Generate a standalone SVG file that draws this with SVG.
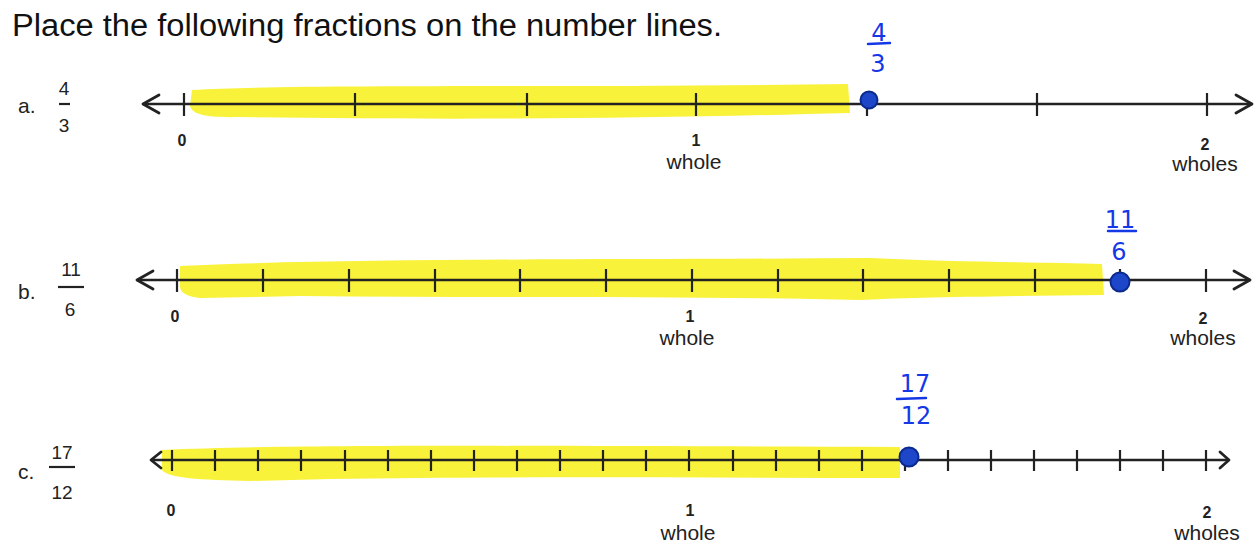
<svg xmlns="http://www.w3.org/2000/svg" width="1259" height="550" viewBox="0 0 1259 550">
<style>
.title{font-family:"Liberation Sans",Arial,sans-serif;font-size:31px;fill:#111}
.lbl{font-family:"Liberation Sans",Arial,sans-serif;font-size:21px;fill:#222}
.frac{font-family:"Liberation Sans",Arial,sans-serif;font-size:19px;fill:#222;text-anchor:middle}
.num{font-family:"Liberation Sans",Arial,sans-serif;font-size:16px;font-weight:bold;fill:#222;text-anchor:middle}
.word{font-family:"Liberation Sans",Arial,sans-serif;font-size:21px;fill:#222;text-anchor:middle}
.hand{font-family:"DejaVu Sans",sans-serif;font-size:24px;fill:#1538e6;text-anchor:middle}
.hl{fill:#f9f23a}
.axis{stroke:#222;stroke-width:2.5;fill:none}
.tick{stroke:#222;stroke-width:2.2}
.arrow{stroke:#222;stroke-width:2.8;fill:none;stroke-linecap:round;stroke-linejoin:round}
.fbar{stroke:#222;stroke-width:2.2}
.hbar{stroke:#1538e6;stroke-width:2.5;stroke-linecap:round}
.dot{fill:#1d46c8;stroke:#0c2a8e;stroke-width:2}
</style>
<text class="title" x="12" y="36" textLength="710" lengthAdjust="spacingAndGlyphs">Place the following fractions on the number lines.</text>

<g id="highlights">
<path class="hl" d="M192,90 C300,84 520,88 848,84 L850,113 C700,117 520,120 330,118 L240,117 C205,118 192,114 190,106 Z"/>
<path class="hl" d="M180,266 C350,258 600,260 870,258 C950,262 1040,262 1102,264 L1104,295 C1000,296 900,298 860,300 C700,296 500,298 300,296 L200,298 C185,296 180,292 180,286 Z"/>
<path class="hl" d="M162,450 C300,444 550,446 900,447 L900,478 C700,478 500,476 330,479 L250,481 C200,480 168,478 162,470 Z"/>
</g>

<g id="line-a">
<text class="lbl" x="18" y="113">a.</text>
<text class="frac" x="64" y="95">4</text>
<line class="fbar" x1="59" y1="104" x2="70" y2="104"/>
<text class="frac" x="64" y="132">3</text>
<line class="axis" x1="143" y1="104" x2="1252" y2="104"/>
<path class="arrow" d="M159,95 L143,104 L159,113"/>
<path class="arrow" d="M1236,95 L1252,104 L1236,113"/>
<g class="tick">
<line x1="184" y1="93" x2="184" y2="116"/><line x1="355" y1="93" x2="355" y2="116"/>
<line x1="527" y1="93" x2="527" y2="116"/><line x1="696" y1="93" x2="696" y2="116"/>
<line x1="867" y1="93" x2="867" y2="116"/><line x1="1037" y1="93" x2="1037" y2="116"/>
<line x1="1207" y1="93" x2="1207" y2="116"/>
</g>
<text class="num" x="182" y="146">0</text>
<text class="num" x="696" y="146">1</text>
<text class="word" x="694" y="169">whole</text>
<text class="num" x="1205" y="150">2</text>
<text class="word" x="1205" y="171">wholes</text>
<circle class="dot" cx="869" cy="100" r="8.5"/>
<text class="hand" x="879" y="41">4</text>
<line class="hbar" x1="868" y1="44" x2="890" y2="43"/>
<text class="hand" x="878" y="72">3</text>
</g>

<g id="line-b">
<text class="lbl" x="18" y="299">b.</text>
<text class="frac" x="71" y="276">11</text>
<line class="fbar" x1="58" y1="287" x2="84" y2="287"/>
<text class="frac" x="70" y="316">6</text>
<line class="axis" x1="137" y1="280" x2="1250" y2="280"/>
<path class="arrow" d="M153,271 L137,280 L153,289"/>
<path class="arrow" d="M1234,271 L1250,280 L1234,289"/>
<g class="tick">
<line x1="177" y1="269" x2="177" y2="292"/><line x1="263" y1="269" x2="263" y2="292"/>
<line x1="349" y1="269" x2="349" y2="292"/><line x1="435" y1="269" x2="435" y2="292"/>
<line x1="520" y1="269" x2="520" y2="292"/><line x1="606" y1="269" x2="606" y2="292"/>
<line x1="692" y1="269" x2="692" y2="292"/><line x1="778" y1="269" x2="778" y2="292"/>
<line x1="863" y1="269" x2="863" y2="292"/><line x1="949" y1="269" x2="949" y2="292"/>
<line x1="1035" y1="269" x2="1035" y2="292"/><line x1="1120" y1="269" x2="1120" y2="292"/>
<line x1="1206" y1="269" x2="1206" y2="292"/>
</g>
<text class="num" x="175" y="322">0</text>
<text class="num" x="690" y="322">1</text>
<text class="word" x="687" y="345">whole</text>
<text class="num" x="1203" y="324">2</text>
<text class="word" x="1203" y="345">wholes</text>
<circle class="dot" cx="1120" cy="282" r="9.5"/>
<text class="hand" x="1120" y="228">11</text>
<line class="hbar" x1="1108" y1="231" x2="1136" y2="231"/>
<text class="hand" x="1119" y="260">6</text>
</g>

<g id="line-c">
<text class="lbl" x="18" y="479">c.</text>
<text class="frac" x="62" y="459">17</text>
<line class="fbar" x1="49" y1="467" x2="75" y2="467"/>
<text class="frac" x="62" y="499">12</text>
<line class="axis" x1="151" y1="460" x2="1229" y2="460"/>
<path class="arrow" d="M161,452 L151,460 L161,468"/>
<path class="arrow" d="M1220,452 L1229,460 L1220,468"/>
<g class="tick">
<line x1="172" y1="450" x2="172" y2="471"/><line x1="215" y1="450" x2="215" y2="471"/>
<line x1="258" y1="450" x2="258" y2="471"/><line x1="301" y1="450" x2="301" y2="471"/>
<line x1="345" y1="450" x2="345" y2="471"/><line x1="388" y1="450" x2="388" y2="471"/>
<line x1="431" y1="450" x2="431" y2="471"/><line x1="474" y1="450" x2="474" y2="471"/>
<line x1="517" y1="450" x2="517" y2="471"/><line x1="560" y1="450" x2="560" y2="471"/>
<line x1="603" y1="450" x2="603" y2="471"/><line x1="646" y1="450" x2="646" y2="471"/>
<line x1="689" y1="450" x2="689" y2="471"/><line x1="733" y1="450" x2="733" y2="471"/>
<line x1="776" y1="450" x2="776" y2="471"/><line x1="819" y1="450" x2="819" y2="471"/>
<line x1="862" y1="450" x2="862" y2="471"/><line x1="905" y1="450" x2="905" y2="471"/>
<line x1="948" y1="450" x2="948" y2="471"/><line x1="991" y1="450" x2="991" y2="471"/>
<line x1="1034" y1="450" x2="1034" y2="471"/><line x1="1077" y1="450" x2="1077" y2="471"/>
<line x1="1120" y1="450" x2="1120" y2="471"/><line x1="1163" y1="450" x2="1163" y2="471"/>
<line x1="1206" y1="450" x2="1206" y2="471"/>
</g>
<text class="num" x="171" y="516">0</text>
<text class="num" x="690" y="516">1</text>
<text class="word" x="688" y="540">whole</text>
<text class="num" x="1207" y="518">2</text>
<text class="word" x="1207" y="540">wholes</text>
<circle class="dot" cx="909" cy="457" r="9.5"/>
<text class="hand" x="915" y="392">17</text>
<line class="hbar" x1="897" y1="399" x2="926" y2="398"/>
<text class="hand" x="916" y="424">12</text>
</g>
</svg>
